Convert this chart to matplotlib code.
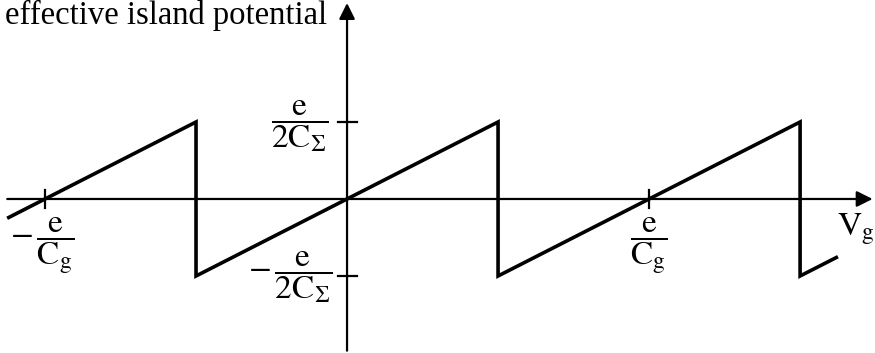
import matplotlib.pyplot as plt

plt.rcParams['font.family'] = ['Liberation Serif', 'DejaVu Serif']
plt.rcParams['mathtext.fontset'] = 'stix'

# sawtooth corners (x in units of e/Cg, y in units of e/CΣ)
saw_x = [-1.12, -0.5, -0.5, 0.5, 0.5, 1.5, 1.5, 1.62]
saw_y = [-0.12, 0.5, -0.5, 0.5, -0.5, 0.5, -0.5, -0.38]

xticks = [-1.0, 1.0]
xtick_labels = [r'$-\,\dfrac{\mathrm{e}}{\mathrm{C}_\mathrm{g}}$',
                r'$\dfrac{\mathrm{e}}{\mathrm{C}_\mathrm{g}}$']
yticks = [0.5, -0.5]
ytick_labels = [r'$\dfrac{\mathrm{e}}{\mathrm{2C}_\Sigma}$',
                r'$-\,\dfrac{\mathrm{e}}{\mathrm{2C}_\Sigma}$']

fig = plt.figure(figsize=(8.75, 3.53), dpi=100)
ax = fig.add_axes([0, 0, 1, 1])
ax.set_xlim(-1.149, 1.748)
ax.set_ylim(-1.0, 1.292)
ax.axis('off')

# axes with arrows
ax.annotate('', xy=(1.74, 0), xytext=(-1.125, 0),
            arrowprops=dict(arrowstyle='-|>', lw=1.6, color='k',
                            mutation_scale=24, shrinkA=0, shrinkB=0))
ax.annotate('', xy=(0, 1.272), xytext=(0, -0.985),
            arrowprops=dict(arrowstyle='-|>', lw=1.6, color='k',
                            mutation_scale=24, shrinkA=0, shrinkB=0))

# tick marks
for xt in xticks:
    ax.plot([xt, xt], [-0.06, 0.06], color='k', lw=1.6)
for yt in yticks:
    ax.plot([-0.03, 0.033], [yt, yt], color='k', lw=1.6)

ax.plot(saw_x, saw_y, color='k', lw=2.6, solid_joinstyle='miter')

# labels
fs = 24
ax.text(-0.156, 0.474, ytick_labels[0], ha='center', va='center', fontsize=fs)
ax.text(-0.189, -0.507, ytick_labels[1], ha='center', va='center', fontsize=fs)
ax.text(-1.01, -0.306, xtick_labels[0], ha='center', va='center', fontsize=fs)
ax.text(1.0, -0.306, xtick_labels[1], ha='center', va='center', fontsize=fs)
ax.text(1.685, -0.195, r'$\mathrm{V_g}$', ha='center', va='center', fontsize=fs)
ax.text(-1.133, 1.136, 'effective island potential', ha='left', va='baseline',
        fontsize=23.5)

fig.savefig('out.png', dpi=100)
